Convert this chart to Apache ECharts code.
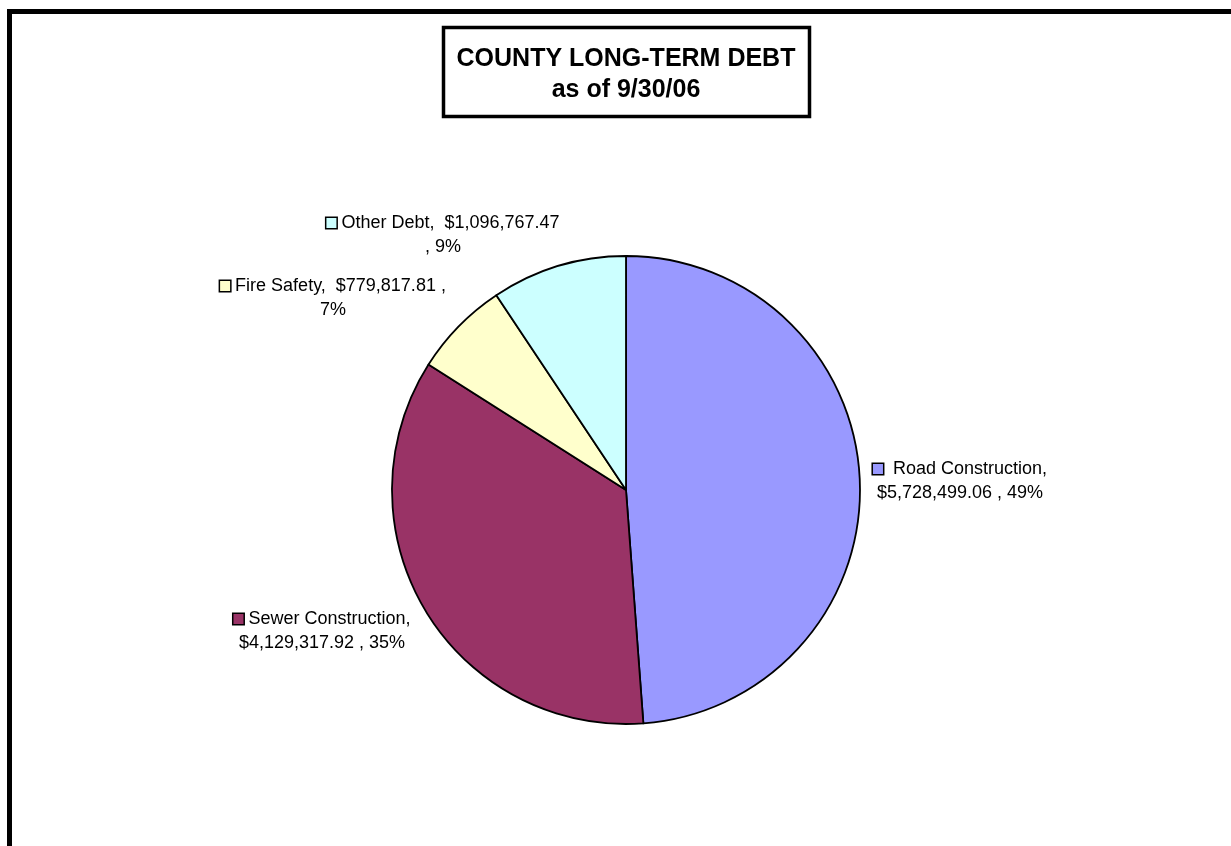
<!DOCTYPE html>
<html>
<head>
<meta charset="utf-8">
<script src="https://cdn.jsdelivr.net/npm/echarts@6/dist/echarts.min.js"></script>
<style>
html,body{margin:0;padding:0;background:#fff;}
#chart{width:1231px;height:846px;}
</style>
</head>
<body>
<div id="chart"></div>
<script>
const categories = ['Road Construction', 'Sewer Construction', 'Fire Safety', 'Other Debt'];
const debtValues = [5728499.06, 4129317.92, 779817.81, 1096767.47];
const sliceColors = ['#9999FF', '#993366', '#FFFFCC', '#CCFFFF'];
// where each label wraps: 'nameSp'/'name' = after "Name,", 'comma' = after "$X ,", 'value' = after "$X"
const wrapModes = ['nameSp', 'name', 'comma', 'value'];
const titleLines = ['COUNTY LONG-TERM DEBT', 'as of 9/30/06'];

// label block centres (layout only)
const labelAnchors = [[960, 481], [322, 631], [333, 298], [443, 235]];

const FONT = '"Liberation Sans", Arial, Helvetica, sans-serif';

function money(v) {
  return '$' + v.toLocaleString('en-US', {minimumFractionDigits: 2, maximumFractionDigits: 2});
}

const chart = echarts.init(document.getElementById('chart'), null, {renderer: 'canvas'});

const rich = {
  t: {fontFamily: FONT, fontSize: 18, color: '#000', lineHeight: 24},
  sp: {width: 5, height: 10, lineHeight: 24}
};
categories.forEach((c, i) => {
  rich['sq' + i] = {width: 10, height: 10, backgroundColor: sliceColors[i], borderColor: '#000', borderWidth: 1.5, lineHeight: 24};
});

const option = {
  backgroundColor: '#fff',
  animation: false,
  graphic: [
    {type: 'rect', shape: {x: 9.5, y: 11.5, width: 1400, height: 1000}, style: {fill: 'none', stroke: '#000', lineWidth: 5}, z: 10},
    {type: 'rect', shape: {x: 443.5, y: 27.5, width: 366, height: 89}, style: {fill: '#fff', stroke: '#000', lineWidth: 3.5}, z: 10},
    {type: 'text', x: 626, y: 74.5, z: 11, style: {text: titleLines.join('\n'), font: 'bold 25px ' + FONT, fill: '#000', align: 'center', verticalAlign: 'middle', lineHeight: 31}}
  ],
  series: [{
    type: 'pie',
    center: [626, 490],
    radius: 234,
    startAngle: 90,
    clockwise: true,
    avoidLabelOverlap: false,
    itemStyle: {borderColor: '#000', borderWidth: 1.8},
    emphasis: {disabled: true},
    labelLine: {show: false},
    label: {
      show: true,
      position: 'outside',
      align: 'center',
      rich: rich,
      formatter: function (p) {
        const i = p.dataIndex;
        const pct = Math.round(p.percent) + '%';
        const val = money(p.value);
        let l1, l2;
        if (wrapModes[i] === 'nameSp') { l1 = ' ' + p.name + ','; l2 = val + ' , ' + pct; }
        else if (wrapModes[i] === 'name') { l1 = p.name + ','; l2 = val + ' , ' + pct; }
        else if (wrapModes[i] === 'comma') { l1 = p.name + ',  ' + val + ' ,'; l2 = pct; }
        else { l1 = p.name + ',  ' + val; l2 = ', ' + pct; }
        return '{sq' + i + '|}{sp|}{t|' + l1 + '}\n{t|' + l2 + '}';
      }
    },
    labelLayout: function (params) {
      const a = labelAnchors[params.dataIndex];
      return {x: a[0], y: a[1], align: 'center', verticalAlign: 'middle'};
    },
    data: categories.map((c, i) => ({name: c, value: debtValues[i], itemStyle: {color: sliceColors[i]}}))
  }]
};
chart.setOption(option);
</script>
</body>
</html>
